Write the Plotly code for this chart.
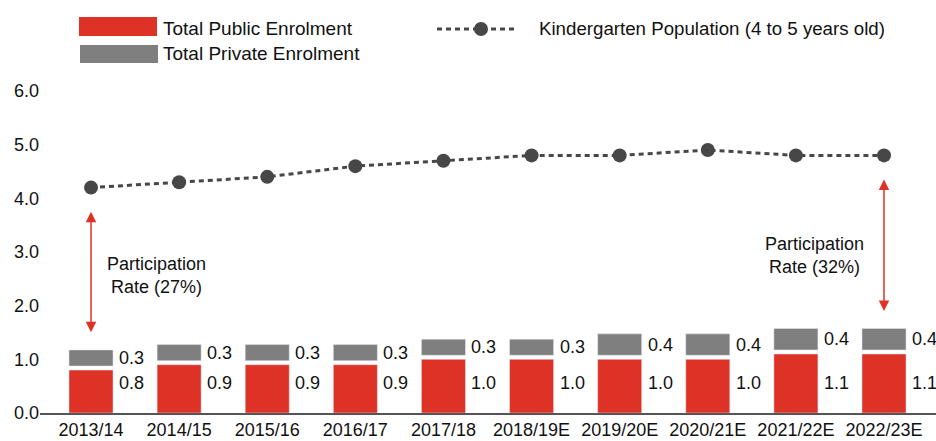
import plotly.graph_objects as go

categories = ["2013/14", "2014/15", "2015/16", "2016/17", "2017/18",
              "2018/19E", "2019/20E", "2020/21E", "2021/22E", "2022/23E"]
public_enrolment = [0.8, 0.9, 0.9, 0.9, 1.0, 1.0, 1.0, 1.0, 1.1, 1.1]
private_enrolment = [0.3, 0.3, 0.3, 0.3, 0.3, 0.3, 0.4, 0.4, 0.4, 0.4]
kindergarten_population = [4.2, 4.3, 4.4, 4.6, 4.7, 4.8, 4.8, 4.9, 4.8, 4.8]
y_ticks = [0, 1, 2, 3, 4, 5, 6]
participation = [("2013/14", "27%"), ("2022/23E", "32%")]

RED = "#de3226"
GRAY = "#7f7f7f"
DARK = "#474747"
TEXT = "#111111"
FONT = "Liberation Sans, Arial, sans-serif"
FS = 18
GAP = 0.075  # visual white gap between stacked segments

W, H = 936, 441
ML, MR, MT, MB = 40, 0, 91, 28
PW, PH = W - ML - MR, H - MT - MB


def px_x(p):
    return (p - ML) / PW


def px_y(p):
    return (H - MB - p) / PH


fig = go.Figure()
fig.add_trace(go.Bar(x=categories, y=public_enrolment, marker_color=RED,
                     width=0.5, name="Total Public Enrolment", showlegend=False))
fig.add_trace(go.Bar(x=categories, y=private_enrolment,
                     base=[p + GAP for p in public_enrolment],
                     marker_color=GRAY, width=0.5,
                     name="Total Private Enrolment", showlegend=False))
fig.add_trace(go.Scatter(x=categories, y=kindergarten_population, mode="lines+markers",
                         line=dict(color=DARK, width=3, dash="5px,4px"),
                         marker=dict(color=DARK, size=14),
                         name="Kindergarten Population (4 to 5 years old)",
                         showlegend=False))

annotations = []
for c, pub, pri in zip(categories, public_enrolment, private_enrolment):
    annotations.append(dict(x=c, y=0.56, text=f"{pub:.1f}", showarrow=False,
                            xanchor="left", yanchor="middle", xshift=26,
                            font=dict(size=FS, color=TEXT, family=FONT)))
    annotations.append(dict(x=c, y=pub + GAP + pri / 2, text=f"{pri:.1f}", showarrow=False,
                            xanchor="left", yanchor="middle", xshift=26,
                            font=dict(size=FS, color=TEXT, family=FONT)))

# participation-rate arrows and labels
text_pos = {"2013/14": (0.74, 2.57), "2022/23E": (8.21, 2.94)}
for cat, rate in participation:
    i = categories.index(cat)
    top = kindergarten_population[i] - 0.45
    bottom = public_enrolment[i] + GAP + private_enrolment[i] + 0.3
    annotations.append(dict(x=i, y=top, ax=i, ay=bottom, xref="x", yref="y",
                            axref="x", ayref="y", text="", showarrow=True,
                            arrowhead=2, startarrowhead=2, arrowside="end+start",
                            arrowsize=1.4, startarrowsize=1.4, arrowwidth=1.5,
                            arrowcolor=RED))
    tx, ty = text_pos[cat]
    annotations.append(dict(x=tx, y=ty, text=f"Participation<br>Rate ({rate})",
                            showarrow=False, xanchor="center", yanchor="middle",
                            font=dict(size=FS, color=TEXT, family=FONT)))

# custom legend
shapes = [
    dict(type="rect", xref="paper", yref="paper", x0=px_x(79), x1=px_x(157),
         y0=px_y(36), y1=px_y(17), fillcolor=RED, line_width=0),
    dict(type="rect", xref="paper", yref="paper", x0=px_x(80), x1=px_x(158),
         y0=px_y(63), y1=px_y(45), fillcolor=GRAY, line_width=0),
    dict(type="line", xref="paper", yref="paper", x0=px_x(437), x1=px_x(517),
         y0=px_y(29), y1=px_y(29), line=dict(color=DARK, width=3, dash="5px,4px")),
    dict(type="circle", xref="paper", yref="paper", x0=px_x(474), x1=px_x(488),
         y0=px_y(36), y1=px_y(22), fillcolor=DARK, line_width=0),
]
for txt, lx, ly, fs in [("Total Public Enrolment", 161, 28, 19),
                        ("Total Private Enrolment", 161, 53, 19),
                        ("Kindergarten Population (4 to 5 years old)", 537, 29, 18.7)]:
    annotations.append(dict(x=px_x(lx), y=px_y(ly), xref="paper", yref="paper",
                            text=txt, showarrow=False, xanchor="left", yanchor="middle",
                            font=dict(size=fs, color=TEXT, family=FONT)))

fig.update_layout(
    width=W, height=H,
    margin=dict(l=ML, r=MR, t=MT, b=MB),
    paper_bgcolor="white", plot_bgcolor="white",
    barmode="overlay",
    showlegend=False,
    font=dict(family=FONT, size=FS, color=TEXT),
    annotations=annotations,
    shapes=shapes,
    xaxis=dict(type="category", range=[-0.579, 9.59], showgrid=False,
               showline=True, linecolor="#555555", linewidth=1.5,
               ticks="", tickfont=dict(size=FS, color=TEXT, family=FONT)),
    yaxis=dict(range=[0, 6], tickvals=y_ticks, tickformat=".1f", showgrid=False,
               zeroline=False, showline=False, ticks="",
               tickfont=dict(size=FS, color=TEXT, family=FONT)),
)

fig.write_html("out.html", config={"displayModeBar": False},
               post_script="document.body.style.margin='0';")
